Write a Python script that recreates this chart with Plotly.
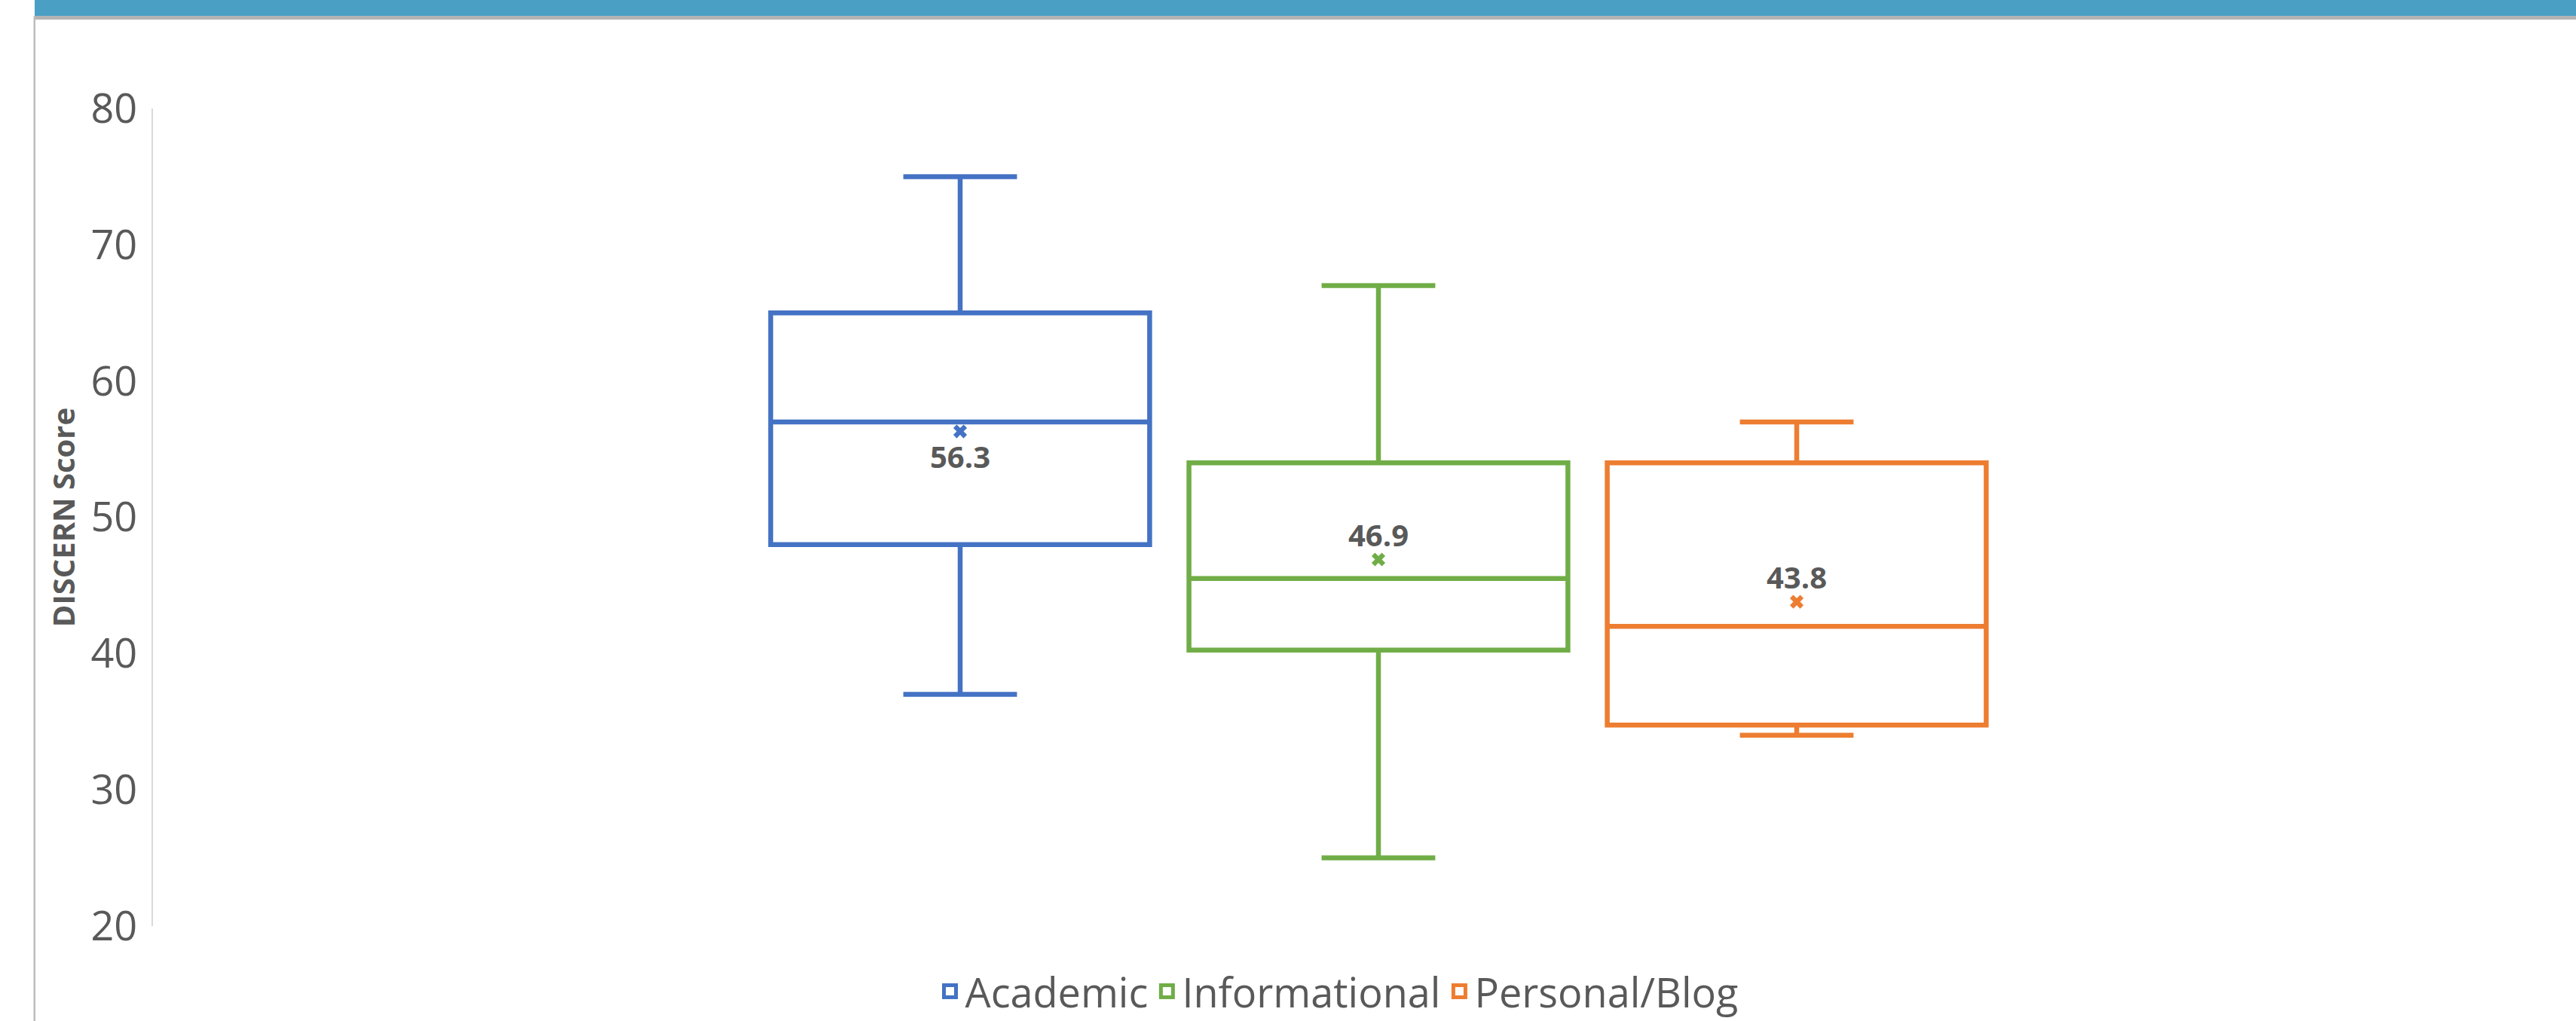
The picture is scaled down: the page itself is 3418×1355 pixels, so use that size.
import plotly.graph_objects as go

# ---- data ----
categories = ["Academic", "Informational", "Personal/Blog"]
colors = ["#4472C4", "#70AD47", "#ED7D31"]
lower_whisker = [37, 25, 34]
q1 = [48, 40.25, 34.75]
medians = [57, 45.5, 42]
q3 = [65, 54, 54]
upper_whisker = [75, 67, 57]
means = [56.3, 46.9, 43.8]
label_shift = [-33, 33, 33]   # data label above (+) or below (-) the mean marker
y_ticks = [20, 30, 40, 50, 60, 70, 80]
y_title = "DISCERN Score"

# ---- layout geometry (pixels) ----
W, H = 3418, 1355
L, R, T, B = 203, 18, 144, 126
PW, PH = W - L - R, H - T - B


def px_x(px):
    return (px - L) / PW


def px_y(py):
    return (H - B - py) / PH


TEXT = "#595959"
FONT = "Open Sans, Noto Sans, sans-serif"

fig = go.Figure()
for i, cat in enumerate(categories):
    fig.add_trace(go.Box(
        name=cat,
        x=[cat],
        q1=[q1[i]], median=[medians[i]], q3=[q3[i]],
        lowerfence=[lower_whisker[i]], upperfence=[upper_whisker[i]],
        line=dict(color=colors[i], width=6.5),
        fillcolor="rgba(255,255,255,0)",
        whiskerwidth=0.30,
        boxpoints=False,
        hoverinfo="skip",
        showlegend=False,
    ))
for i, cat in enumerate(categories):
    fig.add_trace(go.Scatter(
        x=[cat], y=[means[i]],
        mode="markers",
        marker=dict(symbol="x", size=16, color=colors[i], line=dict(width=0)),
        showlegend=False,
        hoverinfo="skip",
    ))
# legend entries (hollow squares like the original)
for i, cat in enumerate(categories):
    fig.add_trace(go.Scatter(
        x=[None], y=[None], name=cat,
        mode="markers",
        marker=dict(symbol="square", size=16, color="white",
                    line=dict(color=colors[i], width=5)),
        showlegend=True,
    ))

annotations = []
for i, cat in enumerate(categories):
    annotations.append(dict(
        x=cat, y=means[i], xref="x", yref="y", text=f"{means[i]:.1f}",
        showarrow=False, yshift=label_shift[i],
        font=dict(family=FONT, size=40, color=TEXT, weight="bold"),
    ))

# category axis range: Academic box centre at px 1274, 555 px per category
px_per_cat = 555
r0 = -(1274 - L) / px_per_cat
r1 = r0 + PW / px_per_cat

shapes = [
    dict(type="rect", xref="paper", yref="paper", x0=px_x(46), x1=px_x(W + 5),
         y0=px_y(21), y1=px_y(-2), fillcolor="#4A9FC5", line=dict(width=0), layer="above"),
    dict(type="rect", xref="paper", yref="paper", x0=px_x(46), x1=px_x(W + 5),
         y0=px_y(26), y1=px_y(21), fillcolor="#B3B3B3", line=dict(width=0), layer="above"),
    dict(type="rect", xref="paper", yref="paper", x0=px_x(44.5), x1=px_x(47),
         y0=px_y(H + 5), y1=px_y(21), fillcolor="#BDBDBD", line=dict(width=0), layer="above"),
    # invisible vertical line carrying the y-axis title as its label
    dict(type="line", xref="paper", yref="paper", x0=px_x(86), x1=px_x(86),
         y0=0, y1=1, line=dict(width=0, color="rgba(0,0,0,0)"),
         label=dict(text=y_title, textangle=-90, textposition="middle",
                    xanchor="center", yanchor="middle",
                    font=dict(family=FONT, size=40, color=TEXT, weight="bold"))),
]

fig.update_layout(
    width=W, height=H, autosize=False,
    margin=dict(l=L, r=R, t=T, b=B, pad=0, autoexpand=False),
    paper_bgcolor="white", plot_bgcolor="white",
    boxmode="overlay", boxgap=0.094, boxgroupgap=0,
    font=dict(family=FONT, color=TEXT),
    xaxis=dict(type="category", range=[r0, r1], showticklabels=False, showgrid=False,
               zeroline=False, showline=False, ticks=""),
    yaxis=dict(range=[20, 80], tickvals=y_ticks, showgrid=False, zeroline=False,
               showline=True, linecolor="#D9D9D9", linewidth=2,
               ticks="outside", ticklen=8, tickcolor="rgba(0,0,0,0)",
               tickfont=dict(family=FONT, size=54, color=TEXT)),
    legend=dict(orientation="h", x=px_x(1776), xanchor="center", y=px_y(1316), yanchor="middle",
                font=dict(family=FONT, size=54, color=TEXT), itemclick=False,
                bgcolor="rgba(0,0,0,0)", traceorder="normal"),
    annotations=annotations,
    shapes=shapes,
    showlegend=True,
)

fig.write_html("out.html")
